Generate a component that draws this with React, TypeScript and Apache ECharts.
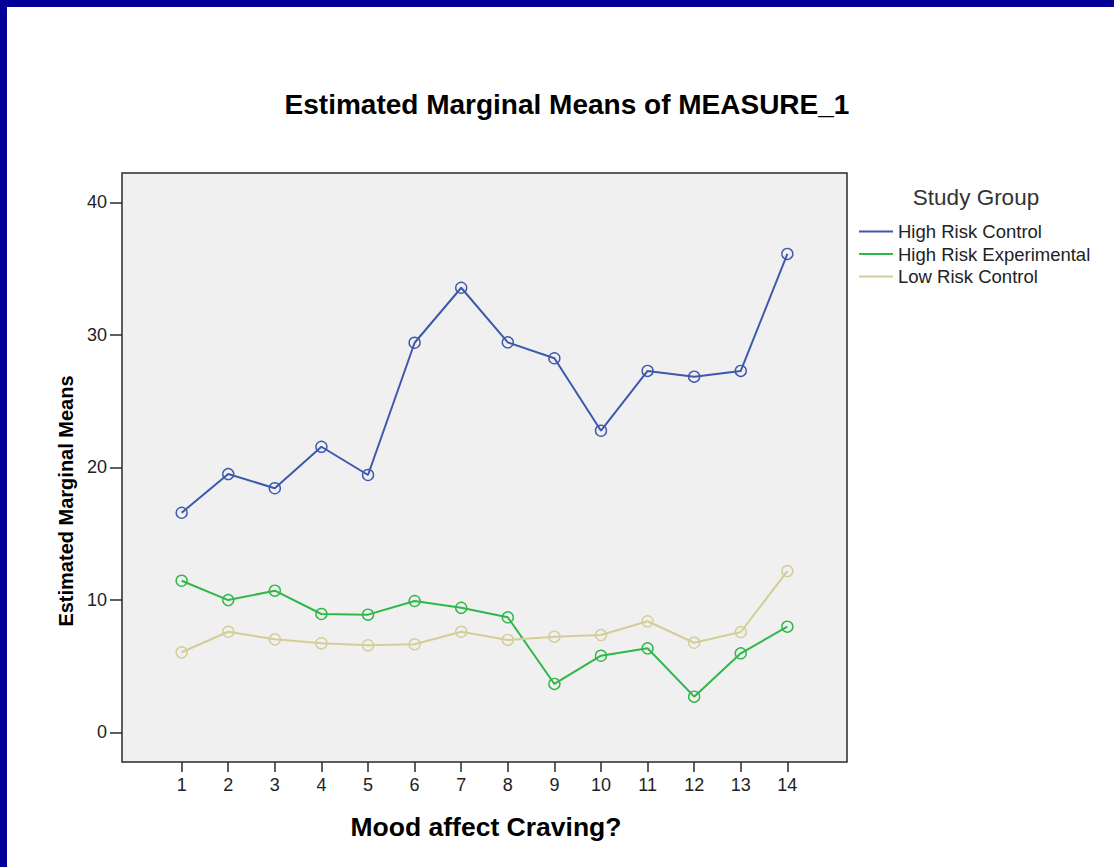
import React, { useEffect, useRef } from "react";
import * as echarts from "echarts";

const categories = [1, 2, 3, 4, 5, 6, 7, 8, 9, 10, 11, 12, 13, 14];
const seriesNames = ["High Risk Control", "High Risk Experimental", "Low Risk Control"];
const highRiskControl = [16.57, 19.49, 18.42, 21.55, 19.42, 29.4, 33.55, 29.43, 28.23, 22.76, 27.27, 26.84, 27.27, 36.1];
const highRiskExperimental = [11.44, 9.98, 10.69, 8.93, 8.88, 9.91, 9.4, 8.68, 3.65, 5.78, 6.34, 2.69, 5.96, 7.97];
const lowRiskControl = [6.04, 7.59, 7.02, 6.72, 6.57, 6.64, 7.59, 6.97, 7.22, 7.34, 8.38, 6.76, 7.57, 12.17];
const yTicks = [0, 10, 20, 30, 40];
const colors = ["#3e58ac", "#2eb848", "#d3ce97"];

const FONT = "'Liberation Sans', Arial, sans-serif";

export default function App() {
  const ref = useRef<HTMLDivElement>(null);
  useEffect(() => {
    if (!ref.current) return;
    const chart = echarts.init(ref.current, null, { renderer: "svg" });
    const allData = [highRiskControl, highRiskExperimental, lowRiskControl];
    chart.setOption({
      animation: false,
      backgroundColor: "#ffffff",
      grid: {
        left: 122,
        top: 173,
        width: 725,
        height: 589,
        show: true,
        backgroundColor: "#f0f0f0",
        borderColor: "#2a2a2a",
        borderWidth: 1.5,
      },
      xAxis: {
        type: "value",
        min: -0.28,
        max: 15.28,
        axisLine: { show: false, onZero: false },
        splitLine: { show: false },
        axisTick: {
          show: true,
          customValues: categories,
          length: 10,
          lineStyle: { color: "#2a2a2a", width: 1.5 },
        },
        axisLabel: {
          customValues: categories,
          fontSize: 18,
          fontFamily: FONT,
          color: "#222",
          margin: 14,
        },
      },
      yAxis: {
        type: "value",
        min: -2.24,
        max: 42.21,
        axisLine: { show: false, onZero: false },
        splitLine: { show: false },
        axisTick: {
          show: true,
          customValues: yTicks,
          length: 12,
          lineStyle: { color: "#2a2a2a", width: 1.5 },
        },
        axisLabel: {
          customValues: yTicks,
          fontSize: 18,
          fontFamily: FONT,
          color: "#222",
          margin: 15,
        },
      },
      legend: {
        orient: "vertical",
        left: 859,
        top: 222,
        padding: 0,
        itemWidth: 34,
        itemHeight: 2,
        itemGap: 3.5,
        icon: "rect",
        textStyle: { fontSize: 18.5, fontFamily: FONT, color: "#222", lineHeight: 18 },
        data: seriesNames.map((n, i) => ({ name: n, itemStyle: { color: colors[i], borderWidth: 0 } })),
      },
      graphic: [
        { type: "rect", shape: { x: 0, y: 0, width: 1114, height: 7 }, style: { fill: "#000099" } },
        { type: "rect", shape: { x: 0, y: 0, width: 7, height: 867 }, style: { fill: "#000099" } },
        {
          type: "text",
          x: 567,
          y: 104,
          style: {
            text: "Estimated Marginal Means of MEASURE_1",
            font: `bold 28px ${FONT}`,
            fill: "#000",
            textAlign: "center",
            textVerticalAlign: "middle",
          },
        },
        {
          type: "text",
          x: 976,
          y: 197,
          style: {
            text: "Study Group",
            font: `22.5px ${FONT}`,
            fill: "#333",
            textAlign: "center",
            textVerticalAlign: "middle",
          },
        },
        {
          type: "text",
          x: 486,
          y: 827,
          style: {
            text: "Mood affect Craving?",
            font: `bold 26.5px ${FONT}`,
            fill: "#000",
            textAlign: "center",
            textVerticalAlign: "middle",
          },
        },
        {
          type: "text",
          x: 66,
          y: 501,
          rotation: Math.PI / 2,
          style: {
            text: "Estimated Marginal Means",
            font: `bold 20px ${FONT}`,
            fill: "#000",
            textAlign: "center",
            textVerticalAlign: "middle",
          },
        },
      ],
      series: allData.map((d, i) => ({
        name: seriesNames[i],
        type: "line",
        data: categories.map((c, j) => [c, d[j]]),
        symbol: "circle",
        symbolSize: 11,
        itemStyle: { color: "rgba(0,0,0,0)", borderColor: colors[i], borderWidth: 1.4 },
        lineStyle: { color: colors[i], width: 2 },
        emphasis: { disabled: true },
      })),
    });
    return () => chart.dispose();
  }, []);
  return (
    <div
      ref={ref}
      style={{ position: "absolute", left: 0, top: 0, width: 1114, height: 867 }}
    />
  );
}
